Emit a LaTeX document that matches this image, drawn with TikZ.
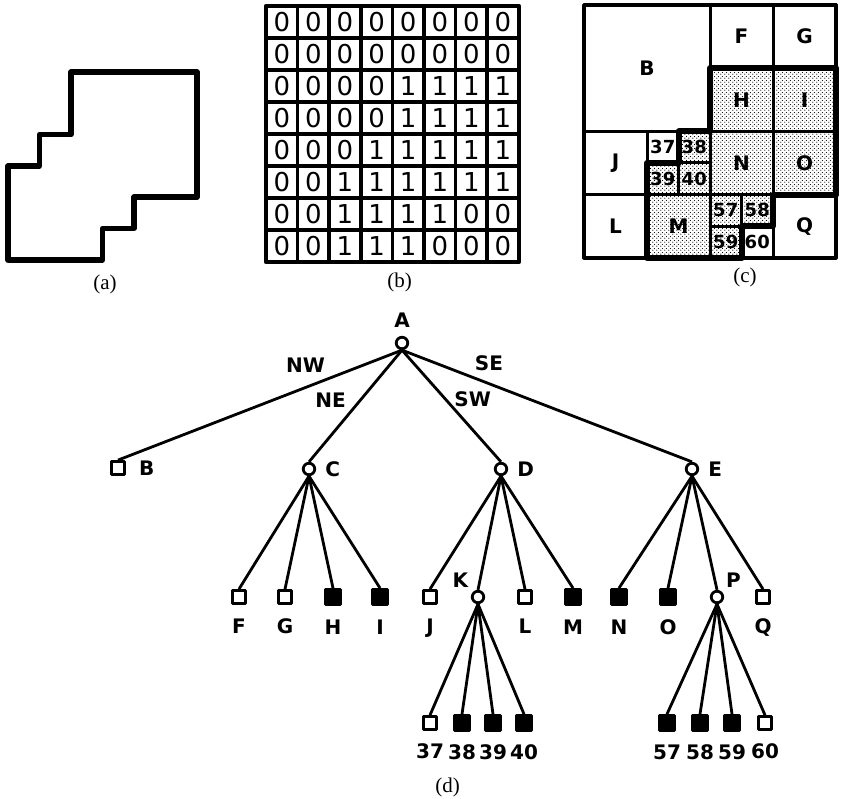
\documentclass[tikz,border=0pt]{standalone}
\usepackage{fontspec}
\setmainfont{Liberation Serif}
\setsansfont{DejaVu Sans}
\usetikzlibrary{patterns}

\pgfdeclarepatternformonly{qdots}{\pgfpointorigin}{\pgfpoint{4pt}{4pt}}{\pgfpoint{4pt}{4pt}}{
	\pgfpathcircle{\pgfpoint{1pt}{1pt}}{0.75pt}
	\pgfpathcircle{\pgfpoint{3pt}{3pt}}{0.75pt}
	\pgfusepath{fill}}

\begin{document}
\begin{tikzpicture}[x=1pt, y=-1pt, line join=round,
	intnode/.style={circle, draw, fill=white, line width=2.8pt, minimum size=11.5pt, inner sep=0pt},
	wleaf/.style={draw, fill=white, line width=2.8pt, minimum size=13pt, inner sep=0pt},
	bleaf/.style={wleaf, fill=black, minimum size=15pt},
	lab/.style={font=\sffamily\bfseries\fontsize{20}{20}\selectfont, inner sep=1pt},
	sublab/.style={font=\sffamily\bfseries\fontsize{18}{18}\selectfont, inner sep=1pt},
	captxt/.style={font=\fontsize{21}{21}\selectfont},
	branch/.style={line width=2.8pt}]
	\useasboundingbox (0,0) rectangle (841,799);

	% (a)
	\begin{scope}[shift={(-55,9.4)}, x=31.5pt, y=-31.3pt]
		\draw[line width=5.5pt] (4,2) -- (8,2) -- (8,6) -- (6,6) -- (6,7) -- (5,7)
		-- (5,8) -- (2,8) -- (2,5) -- (3,5) -- (3,4) -- (4,4) -- cycle;
	\end{scope}
	\node[captxt] (capa) at (105,284) {(a)};

	% (b)
	\begin{scope}[shift={(266,6)}, x=31.6pt, y=-32pt]
		\foreach \k in {0,...,8} {
				\draw[line width=3.5pt] (\k,0) -- (\k,8);
				\draw[line width=3.5pt] (0,\k) -- (8,\k);
			}
		\draw[line width=4.5pt] (0,0) rectangle (8,8);
		\foreach \row [count=\yy from 0] in {{0,0,0,0,0,0,0,0},{0,0,0,0,0,0,0,0},
				{0,0,0,0,1,1,1,1},{0,0,0,0,1,1,1,1},{0,0,0,1,1,1,1,1},
				{0,0,1,1,1,1,1,1},{0,0,1,1,1,1,0,0},{0,0,1,1,1,0,0,0}}
			\foreach \v [count=\xx from 0] in \row
				\node[font=\sffamily\fontsize{26}{26}\selectfont] (b\yy\xx) at (\xx+0.5,\yy+0.5) {\v};
	\end{scope}
	\node[captxt] (capb) at (399.5,282) {(b)};

	% (c)
	\begin{scope}[shift={(584,5)}, x=31.5pt, y=-31.6pt]
		\foreach \xa/\ya/\xb/\yb in {4/2/6/4, 6/2/8/4, 3/4/4/5, 2/5/3/6, 3/5/4/6, 4/4/6/6,
				6/4/8/6, 2/6/4/8, 4/6/5/7, 5/6/6/7, 4/7/5/8}
			\fill[pattern=qdots] (\xa,\ya) rectangle (\xb,\yb);
		\foreach \xa/\ya/\xb/\yb/\t in {0/0/4/4/B, 4/0/6/2/F, 6/0/8/2/G, 4/2/6/4/H, 6/2/8/4/I,
				0/4/2/6/J, 4/4/6/6/N, 6/4/8/6/O, 0/6/2/8/L, 2/6/4/8/M, 6/6/8/8/Q} {
				\draw[line width=3pt] (\xa,\ya) rectangle (\xb,\yb);
				\node[lab] (c\t) at ({(\xa+\xb)/2},{(\ya+\yb)/2}) {\t};
			}
		\foreach \xa/\ya/\t in {2/4/37, 3/4/38, 2/5/39, 3/5/40, 4/6/57, 5/6/58, 4/7/59, 5/7/60} {
				\draw[line width=3pt] (\xa,\ya) rectangle ++(1,1);
				\node[sublab] (c\t) at (\xa+0.5,\ya+0.5) {\t};
			}
		\draw[line width=3.5pt] (0,0) rectangle (8,8);
		\draw[line width=6pt] (4,2) -- (8,2) -- (8,6) -- (6,6) -- (6,7) -- (5,7)
		-- (5,8) -- (2,8) -- (2,5) -- (3,5) -- (3,4) -- (4,4) -- cycle;
	\end{scope}
	\node[captxt] (capc) at (745,277.5) {(c)};

	% (d)
	\node[intnode, label={[lab, label distance=7pt]above:A}] (A) at (402,343) {};
	\node[wleaf, label={[lab, label distance=12pt]right:B}] (B) at (118,468) {};
	\node[intnode, label={[lab, label distance=8pt]right:C}] (C) at (309,469) {};
	\node[intnode, label={[lab, label distance=8pt]right:D}] (D) at (501,469) {};
	\node[intnode, label={[lab, label distance=8pt]right:E}] (E) at (692,469) {};

	\foreach \n/\x/\s in {F/239/wleaf, G/285/wleaf, H/333/bleaf, I/380/bleaf, J/430/wleaf,
			L/525/wleaf, M/573/bleaf, N/619/bleaf, O/668/bleaf, Q/763/wleaf}
		\node[\s, label={[lab, label distance=13pt]below:\n}] (\n) at (\x,597) {};
	\node[intnode, label={[lab, label distance=5pt]above left:K}] (K) at (478,597) {};
	\node[intnode, label={[lab, label distance=4pt]above right:P}] (P) at (717,597) {};

	\foreach \n/\x/\s in {37/430/wleaf, 38/462/bleaf, 39/493/bleaf, 40/524/bleaf,
			57/667/bleaf, 58/700/bleaf, 59/732/bleaf, 60/765/wleaf}
		\node[\s, label={[lab, label distance=12pt]below:\n}] (n\n) at (\x,723) {};

	\draw[branch] (A.south) -- node[lab, pos=0.34, above=13pt] (nw) {NW} (B.north);
	\draw[branch] (A.south) -- node[lab, pos=0.45, left=12pt] (ne) {NE} (C.north);
	\draw[branch] (A.south) -- node[lab, pos=0.44, right=6.5pt] (sw) {SW} (D.north);
	\draw[branch] (A.south) -- node[lab, pos=0.3, above=10pt] (se) {SE} (E.north);

	\foreach \pa/\ch in {C/F, C/G, C/H, C/I, D/J, D/K, D/L, D/M, E/N, E/O, E/P, E/Q,
			K/n37, K/n38, K/n39, K/n40, P/n57, P/n58, P/n59, P/n60}
		\draw[branch] (\pa.south) -- (\ch.north);

	\node[captxt] (capd) at (447.5,787.5) {(d)};
\end{tikzpicture}
\end{document}
